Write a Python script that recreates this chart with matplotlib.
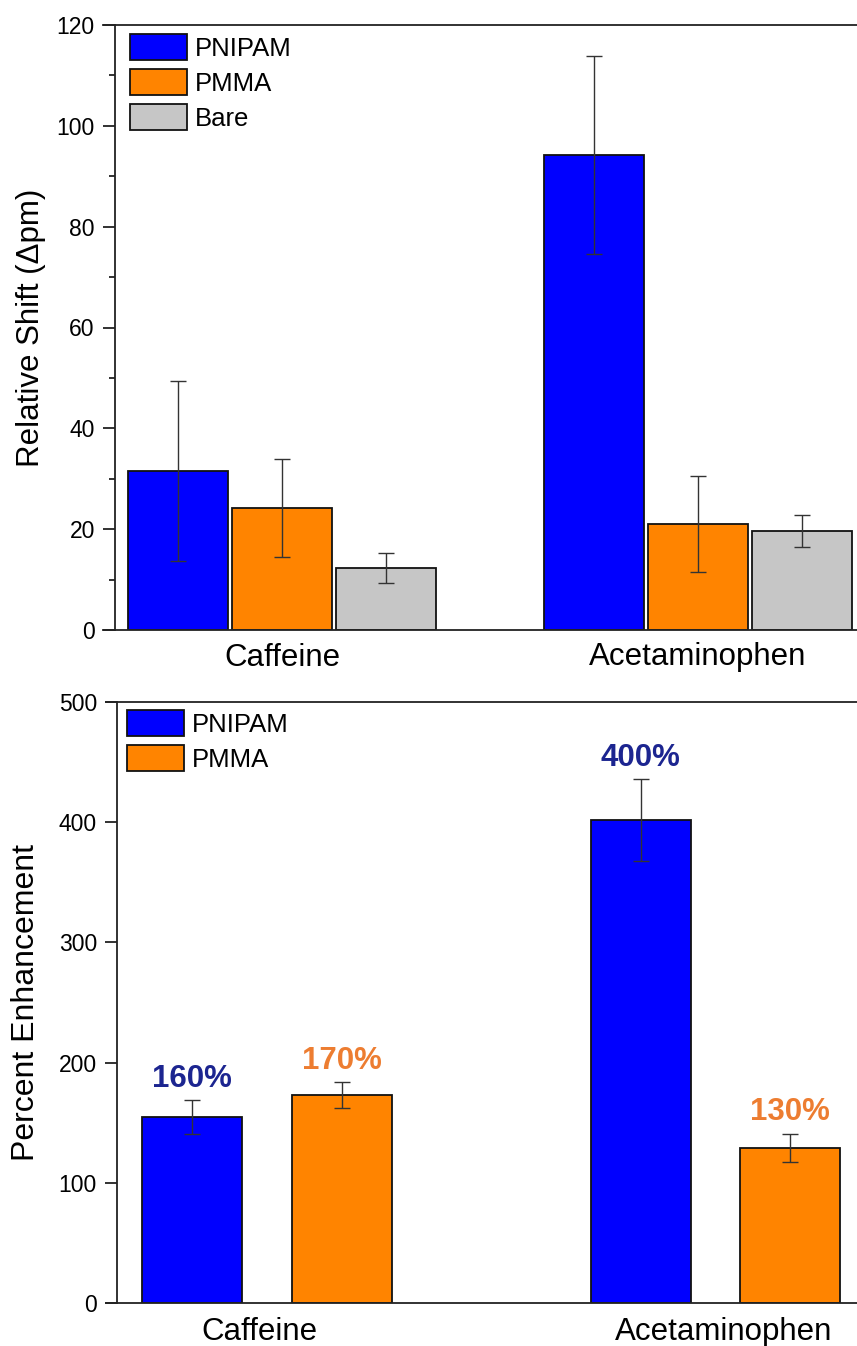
import matplotlib
matplotlib.use("Agg")
import matplotlib.pyplot as plt
import matplotlib.transforms as mtransforms
import numpy as np

plt.rcParams['font.family'] = ['Liberation Sans', 'DejaVu Sans']

# ---- data ----
categories = ["Caffeine", "Acetaminophen"]
top_series = ["PNIPAM", "PMMA", "Bare"]
top_values = {"PNIPAM": [31.5, 94.2], "PMMA": [24.2, 21.1], "Bare": [12.3, 19.6]}
top_errors = {"PNIPAM": [17.8, 19.6], "PMMA": [9.7, 9.5], "Bare": [2.9, 3.2]}

bot_series = ["PNIPAM", "PMMA"]
bot_values = {"PNIPAM": [155, 402], "PMMA": [173, 129]}
bot_errors = {"PNIPAM": [14, 34], "PMMA": [11, 12]}
bot_labels = {"PNIPAM": ["160%", "400%"], "PMMA": ["170%", "130%"]}

colors = {"PNIPAM": "#0000FF", "PMMA": "#FF8400", "Bare": "#C6C6C6"}
label_colors = {"PNIPAM": "#1C2590", "PMMA": "#ED7D31"}

W, H = 857, 1346
fig = plt.figure(figsize=(W / 100, H / 100), dpi=100)


def px_axes(left, top, right, bottom):
    return fig.add_axes([left / W, 1 - bottom / H, (right - left) / W, (bottom - top) / H])


def style(ax, spine_px, width_px, major, minor=None):
    ax.spines['right'].set_visible(False)
    for s in ['left', 'top', 'bottom']:
        ax.spines[s].set_linewidth(1.3)
        ax.spines[s].set_color('#222222')
    ax.spines['left'].set_position(('axes', spine_px / width_px))
    ax.set_yticks(major)
    if minor is not None:
        ax.set_yticks(minor, minor=True)
    ax.tick_params(axis='y', which='major', direction='out', length=8.5, width=1.3,
                   labelsize=16.5, pad=6, color='#222222')
    ax.tick_params(axis='y', which='minor', direction='out', length=4.5, width=1.3,
                   color='#222222')
    ax.tick_params(axis='x', length=0, labelsize=22.5)


legend_kw = dict(frameon=False, fontsize=18.5, handlelength=2.2, handleheight=1.15,
                 handletextpad=0.3, labelspacing=0.33, borderaxespad=0)

# ---- top chart ----
ax1 = px_axes(103, 25, 860, 630)
group_pos = np.array([0.0, 4.0])
offsets = {"PNIPAM": -1.0, "PMMA": 0.0, "Bare": 1.0}
for s in top_series:
    ax1.bar(group_pos + offsets[s], top_values[s], width=0.96, color=colors[s],
            edgecolor='#111111', linewidth=1.3, label=s, zorder=2)
    ax1.errorbar(group_pos + offsets[s], top_values[s], yerr=top_errors[s], fmt='none',
                 ecolor='#333333', elinewidth=1.0, capsize=6, capthick=1.0, zorder=3)
ax1.set_xlim(-1.721, -1.721 + (860 - 103) / 104)
ax1.set_ylim(0, 120)
style(ax1, 12, 757, np.arange(0, 121, 20), np.arange(10, 120, 20))
ax1.set_xticks(group_pos)
ax1.set_xticklabels(categories)
ax1.tick_params(axis='x', pad=9)
ax1.set_ylabel("Relative Shift (\u0394pm)", fontsize=22.5)
ax1.yaxis.set_label_coords(-57 / 757, 0.5)
ax1.legend(loc='upper left', bbox_to_anchor=(17 / 757, 1 + 1 / 605), **legend_kw)

# ---- bottom chart ----
ax2 = px_axes(106, 702, 860, 1303)
group_pos2 = np.array([0.0, 3.0])
offsets2 = {"PNIPAM": -0.5, "PMMA": 0.5}
for s in bot_series:
    xs = group_pos2 + offsets2[s]
    ax2.bar(xs, bot_values[s], width=0.67, color=colors[s], edgecolor='#111111',
            linewidth=1.3, label=s, zorder=2)
    ax2.errorbar(xs, bot_values[s], yerr=bot_errors[s], fmt='none', ecolor='#333333',
                 elinewidth=1.0, capsize=6, capthick=1.0, zorder=3)
    for x, v, e, t in zip(xs, bot_values[s], bot_errors[s], bot_labels[s]):
        ax2.annotate(t, (x, v + e), xytext=(0, 4.5), textcoords='offset points',
                     ha='center', va='bottom', fontsize=22.5, fontweight='bold',
                     color=label_colors[s])
ax2.set_xlim(-1.077, -1.077 + (860 - 106) / 149.5)
ax2.set_ylim(0, 500)
style(ax2, 11, 754, np.arange(0, 501, 100))
ax2.set_xticks(group_pos2)
ax2.set_xticklabels(categories)
ax2.tick_params(axis='x', pad=10)
for lbl, dx in zip(ax2.get_xticklabels(), [-8, 8]):
    lbl.set_transform(lbl.get_transform() + mtransforms.ScaledTranslation(dx / 100, 0, fig.dpi_scale_trans))
ax2.set_ylabel("Percent Enhancement", fontsize=23)
ax2.yaxis.set_label_coords(-65 / 754, 0.5)
ax2.legend(loc='upper left', bbox_to_anchor=(11 / 754, 1 + 2 / 601), **legend_kw)

fig.savefig("out.png", dpi=100)
